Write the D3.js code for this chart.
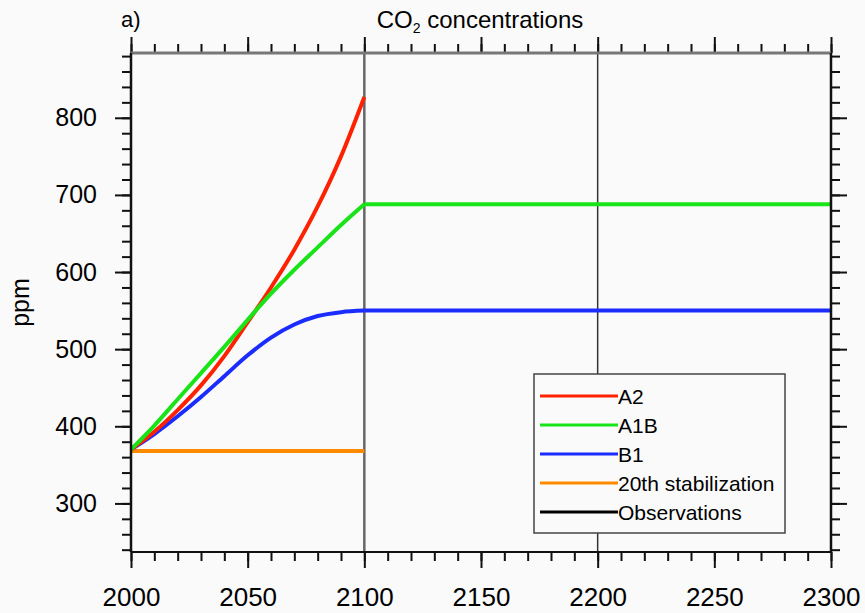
<!DOCTYPE html>
<html lang="en">
  <head>
    <meta charset="utf-8">
    <title>CO2 concentrations</title>
    <script src="https://d3js.org/d3.v7.min.js"></script>
    <style>
      body { margin: 0; background: #fafafa; }
      svg { display: block; }
      text { font-family: "Liberation Sans", Arial, sans-serif; fill: #000; }
    </style>
  </head>
  <body>
    <svg id="chart" width="865" height="613"></svg>
    <script type="text/javascript">
      // data
      var years = [2000, 2010, 2020, 2030, 2040, 2050, 2060, 2070, 2080, 2090, 2100];
      var a2 = [370, 393, 421, 453, 491, 535, 580, 629, 685, 750, 827];
      var a1b = [370, 401, 435, 469, 503, 538, 572, 603, 632, 661, 688];
      var b1 = [370, 390, 413, 438, 465, 492, 515, 532, 543, 548, 550];
      var stab = [368, 368, 368, 368, 368, 368, 368, 368, 368, 368, 368];
      var yearsAfter = [2100, 2300];
      var a1bAfter = [688, 688];
      var b1After = [550, 550];

      var xTicks = [2000, 2050, 2100, 2150, 2200, 2250, 2300];
      var yTicks = [300, 400, 500, 600, 700, 800];
      var verticalLines = [2100, 2200];

      var legendNames = ["A2", "A1B", "B1", "20th stabilization", "Observations"];
      var legendColors = ["#ff2200", "#18e418", "#1a2cff", "#ff8a00", "#000000"];

      var svg = d3.select("#chart");
      var marginLeft = 131, marginTop = 53, plotW = 700, plotH = 499;

      var x = d3.scaleLinear().domain([2000, 2300]).range([0, plotW]);
      var y = d3.scaleLinear().domain([237, 884]).range([plotH, 0]);

      var canvas = svg.append("g")
        .attr("transform", "translate(" + marginLeft + "," + marginTop + ")");

      // vertical reference lines
      canvas.selectAll(".vline").data(verticalLines).enter().append("line")
        .attr("class", "vline")
        .attr("x1", function(d) { return x(d); })
        .attr("x2", function(d) { return x(d); })
        .attr("y1", 0).attr("y2", plotH)
        .attr("stroke", function(d, i) { return i == 0 ? "#666" : "#333"; })
        .attr("stroke-width", function(d, i) { return i == 0 ? 2.5 : 1.5; });

      var line = d3.line()
        .x(function(d) { return x(d[0]); })
        .y(function(d) { return y(d[1]); })
        .curve(d3.curveMonotoneX);

      function series(xs, ys) {
        return xs.map(function(v, i) { return [v, ys[i]]; });
      }

      var curves = [
        { pts: series(years, stab), color: legendColors[3] },
        { pts: series(years, b1), color: legendColors[2] },
        { pts: series(yearsAfter, b1After), color: legendColors[2] },
        { pts: series(years, a2), color: legendColors[0] },
        { pts: series(years, a1b), color: legendColors[1] },
        { pts: series(yearsAfter, a1bAfter), color: legendColors[1] }
      ];

      canvas.selectAll(".curve").data(curves).enter().append("path")
        .attr("class", "curve")
        .attr("d", function(d) { return line(d.pts); })
        .attr("fill", "none")
        .attr("stroke", function(d) { return d.color; })
        .attr("stroke-width", 4);

      // axes: major + minor ticks on all four sides, pointing outward
      var minorX = d3.range(2000, 2301, 10);
      var minorY = d3.range(240, 884, 20);

      function styleAxis(g) {
        g.select(".domain").remove();
        g.selectAll(".tick line").attr("stroke", "#111").attr("stroke-width", 2);
      }

      canvas.append("g").attr("transform", "translate(0," + plotH + ")")
        .call(d3.axisBottom(x).tickValues(minorX).tickSize(9).tickFormat(""))
        .call(styleAxis);
      canvas.append("g").attr("transform", "translate(0," + plotH + ")")
        .call(d3.axisBottom(x).tickValues(xTicks).tickSize(16).tickPadding(20).tickFormat(d3.format("d")))
        .call(styleAxis)
        .selectAll("text").attr("font-size", 26).attr("fill", "#000");

      canvas.append("g")
        .call(d3.axisTop(x).tickValues(minorX).tickSize(9).tickFormat(""))
        .call(styleAxis);
      canvas.append("g")
        .call(d3.axisTop(x).tickValues(xTicks).tickSize(16).tickFormat(""))
        .call(styleAxis);

      canvas.append("g")
        .call(d3.axisLeft(y).tickValues(minorY).tickSize(9).tickFormat(""))
        .call(styleAxis);
      canvas.append("g")
        .call(d3.axisLeft(y).tickValues(yTicks).tickSize(16).tickPadding(18).tickFormat(d3.format("d")))
        .call(styleAxis)
        .selectAll("text").attr("font-size", 25).attr("fill", "#000");

      canvas.append("g").attr("transform", "translate(" + plotW + ",0)")
        .call(d3.axisRight(y).tickValues(minorY).tickSize(9).tickFormat(""))
        .call(styleAxis);
      canvas.append("g").attr("transform", "translate(" + plotW + ",0)")
        .call(d3.axisRight(y).tickValues(yTicks).tickSize(16).tickFormat(""))
        .call(styleAxis);

      // frame
      canvas.append("line").attr("x1", 0).attr("x2", plotW).attr("y1", 0).attr("y2", 0)
        .attr("stroke", "#777").attr("stroke-width", 3);
      canvas.append("line").attr("x1", 0).attr("x2", plotW).attr("y1", plotH).attr("y2", plotH)
        .attr("stroke", "#111").attr("stroke-width", 2);
      canvas.append("line").attr("x1", 0).attr("x2", 0).attr("y1", 0).attr("y2", plotH)
        .attr("stroke", "#111").attr("stroke-width", 2.5);
      canvas.append("line").attr("x1", plotW).attr("x2", plotW).attr("y1", 0).attr("y2", plotH)
        .attr("stroke", "#111").attr("stroke-width", 2.5);

      // legend
      var legend = svg.append("g").attr("transform", "translate(534,374)");
      legend.append("rect").attr("width", 251).attr("height", 159)
        .attr("fill", "#fafafa").attr("stroke", "#444").attr("stroke-width", 1.5);
      var items = legend.selectAll(".item").data(legendNames).enter().append("g")
        .attr("class", "item")
        .attr("transform", function(d, i) { return "translate(0," + (22 + i * 29) + ")"; });
      items.append("line").attr("x1", 6).attr("x2", 84).attr("y1", 0).attr("y2", 0)
        .attr("stroke", function(d, i) { return legendColors[i]; })
        .attr("stroke-width", 3);
      items.append("text").attr("x", 84).attr("y", 8)
        .attr("font-size", 21).text(function(d) { return d; });

      // titles
      var title = svg.append("text").attr("x", 480).attr("y", 28)
        .attr("text-anchor", "middle").attr("font-size", 24);
      title.append("tspan").text("CO");
      title.append("tspan").attr("font-size", 14).attr("dy", 5).text("2");
      title.append("tspan").attr("dy", -5).text(" concentrations");

      svg.append("text").attr("x", 121).attr("y", 27).attr("font-size", 22).text("a)");

      svg.append("text")
        .attr("transform", "translate(29," + (marginTop + plotH / 2) + ") rotate(-90)")
        .attr("text-anchor", "middle").attr("font-size", 25).text("ppm");
    </script>
  </body>
</html>
